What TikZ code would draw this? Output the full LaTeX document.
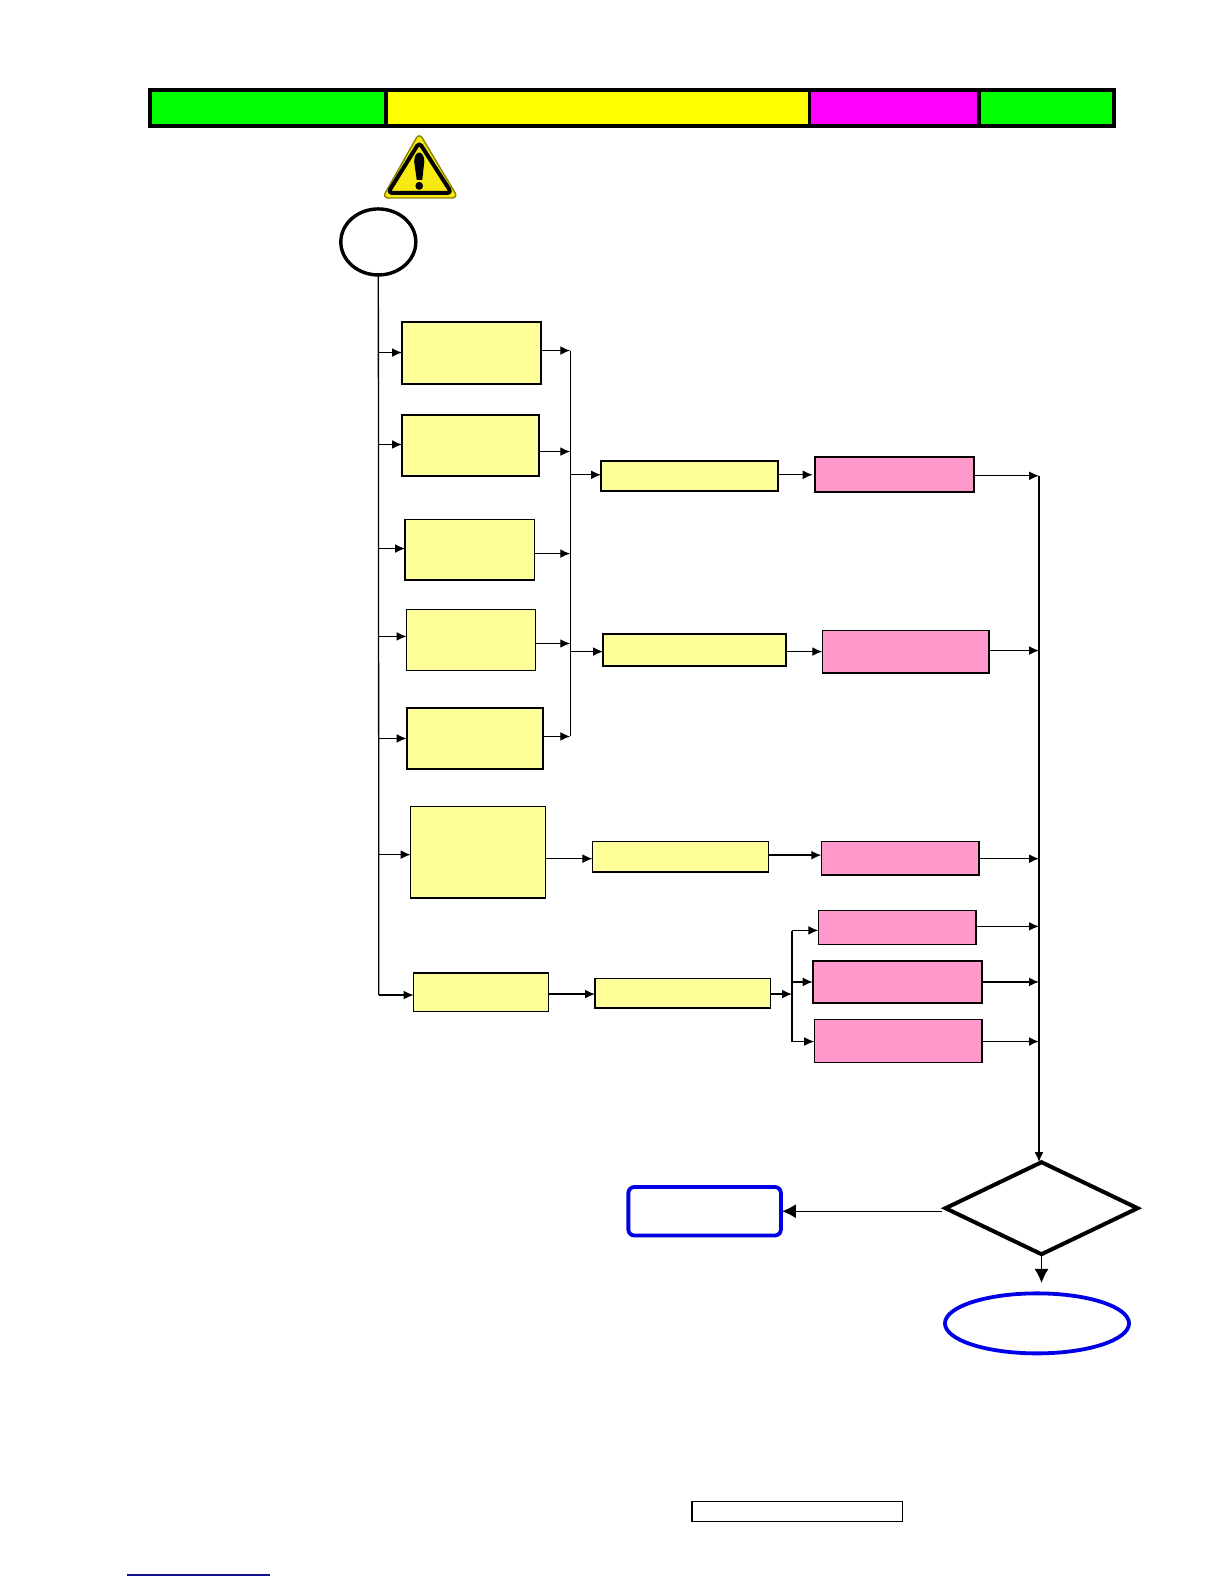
\documentclass[tikz,border=0pt]{standalone}
\usetikzlibrary{arrows.meta,shapes.geometric}
\definecolor{paley}{HTML}{FFFF99}
\definecolor{palep}{HTML}{FF99CC}
\definecolor{blu}{HTML}{0000E6}
\definecolor{hgreen}{HTML}{00FF00}
\definecolor{hyellow}{HTML}{FFFF00}
\definecolor{hmagenta}{HTML}{FF00FF}
\definecolor{warny}{HTML}{F7EA10}
\definecolor{warno}{HTML}{8A8200}
\definecolor{linkblue}{HTML}{10108C}
\tikzset{
  shp/.style={draw=black,inner sep=0pt,outer sep=0pt},
  hdr/.style={shp,rectangle,line width=1.6pt},
  ybox/.style={shp,rectangle,fill=paley,line width=0.7pt},
  ybox2/.style={ybox,line width=1pt},
  pbox/.style={shp,rectangle,fill=palep,line width=0.7pt},
  pbox2/.style={pbox,line width=1pt},
  conn/.style={line width=0.65pt,draw=black},
  arr/.style={conn,-{Latex[length=5pt,width=4.4pt]}},
  bigarr/.style={conn,-{Latex[length=7pt,width=7pt]}},
}
\newcommand{\bx}[6]{%
  \pgfmathsetmacro\cxx{(#3+#5)/2}\pgfmathsetmacro\cyy{(#4+#6)/2}%
  \pgfmathsetmacro\ww{(#5-#3)*0.50495}\pgfmathsetmacro\hh{(#6-#4)*0.50495}%
  \node[#1,minimum width=\ww pt,minimum height=\hh pt] (#2) at (\cxx,\cyy) {};}
\begin{document}
\begin{tikzpicture}[x=0.50495pt,y=-0.50495pt]
\useasboundingbox (0,0) rectangle (1212,1568);
% header
\bx{hdr,fill=hgreen}{h1}{148}{89}{382}{125}
\bx{hdr,fill=hyellow}{h2}{382}{89}{801}{125}
\bx{hdr,fill=hmagenta}{h3}{801}{89}{969}{125}
\bx{hdr,fill=hgreen}{h4}{969}{89}{1103}{125}
\draw[line width=2pt] (h1.north west) rectangle (h4.south east);
% warning sign
\draw[warno,fill=warny,line width=0.7pt,line join=round,rounded corners=3pt] (415,131.5) -- (453.5,196) -- (378.5,196) -- cycle;
\draw[black,line width=2pt,line join=round,rounded corners=2pt] (415,141) -- (447,191) -- (384,191) -- cycle;
\fill[black] (410,160) .. controls (410,148) and (420,148) .. (420,160) -- (418,178) -- (412.5,178) -- cycle;
\fill[black] (415,184) ellipse[x radius=3.8,y radius=4];
% start
\node[shp,ellipse,line width=1.7pt,fill=white,minimum width=37.5pt,minimum height=33pt] (start) at (374.5,239.5) {};
% left column
\bx{ybox2}{b1}{398}{319}{536}{380}
\bx{ybox2}{b2}{398}{411}{534}{471}
\bx{ybox}{b3}{401}{514}{529}{574}
\bx{ybox}{b4}{402.5}{603.5}{530}{663.5}
\bx{ybox2}{b5}{402.5}{701}{538}{761}
\bx{ybox}{b6}{406.5}{798.5}{540}{889}
\bx{ybox}{b7}{409.5}{963}{543}{1001}
% middle column
\bx{ybox2}{m1}{595}{456}{770}{486}
\bx{ybox2}{m2}{597}{628}{778}{659}
\bx{ybox}{m3}{586.5}{833}{761}{863}
\bx{ybox}{m4}{589}{968.5}{763}{998}
% pink column
\bx{pbox2}{p1}{806.5}{452}{964}{487}
\bx{pbox}{p2}{814}{624}{979}{666}
\bx{pbox}{p3}{813}{833}{969}{866}
\bx{pbox}{p4}{810}{901}{966}{935}
\bx{pbox2}{p5}{804.5}{951}{972}{993}
\bx{pbox}{p6}{806}{1009}{972}{1051.5}
% decision and terminals
\node[shp,diamond,aspect=2.1,line width=2pt,fill=white,minimum width=96pt,minimum height=46pt] (dec) at (1031,1196) {};
\bx{shp,rectangle,draw=blu,line width=1.9pt,rounded corners=3pt,fill=white}{bluebox}{622}{1175}{773}{1223}
\node[shp,ellipse,draw=blu,line width=1.9pt,fill=white,minimum width=92pt,minimum height=30pt] (endn) at (1026.5,1310) {};
\bx{shp,rectangle,line width=0.6pt,fill=white}{foot}{685}{1486}{893}{1506}
\draw[draw=linkblue,line width=0.8pt] (126,1559) -- (267,1559);
% trunk junctions
\foreach \n/\y in {1/349,2/440,3/543,4/630,5/731,6/846,7/985}{\coordinate (L\n) at (375,\y);}
\foreach \n/\y in {1/347,2/447,3/548,4/637,5/729}{\coordinate (M\n) at (564.5,\y);}
\coordinate (Ma) at (565,470); \coordinate (Mb) at (564,645);
\foreach \n/\y in {1/471,2/644,3/850,4/917,5/972,6/1031}{\coordinate (R\n) at (1028.5,\y);}
\coordinate (Ftop) at (784,922); \coordinate (Fbot) at (784,1031); \coordinate (Fmid) at (784,984);
% trunks
\draw[conn] (start.south) -- (L7);
\draw[conn] (M1) -- (M5);
\draw[arr] (R1) -- (dec.north -| R1);
\draw[conn] (Ftop) -- (Fbot);
% into left column
\foreach \n in {1,...,7}{\draw[arr] (L\n) -- (L\n -| b\n.west);}
% out of left column
\foreach \n in {1,...,5}{\draw[arr] (M\n -| b\n.east) -- (M\n);}
\draw[arr] (Ma) -- (Ma -| m1.west);
\draw[arr] (Mb) -- (Mb -| m2.west);
\coordinate (y3) at (0,850); \coordinate (y4) at (0,984);
\draw[arr] (y3 -| b6.east) -- (y3 -| m3.west);
\draw[arr] (y4 -| b7.east) -- (y4 -| m4.west);
% middle to pink
\coordinate (ya) at (0,470); \coordinate (yb) at (0,645); \coordinate (yc) at (0,846.5);
\draw[arr,shorten <=0.5pt,shorten >=1pt] (ya -| m1.east) -- (ya -| p1.west);
\draw[arr] (yb -| m2.east) -- (yb -| p2.west);
\draw[arr] (yc -| m3.east) -- (yc -| p3.west);
\draw[arr] (Fmid -| m4.east) -- (Fmid);
\coordinate (yd) at (0,921); \coordinate (yf) at (0,972); \coordinate (yg) at (0,1031);
\draw[arr] (Ftop |- yd) -- (yd -| p4.west);
\draw[arr] (Ftop |- yf) -- (yf -| p5.west);
\draw[arr] (Ftop |- yg) -- (yg -| p6.west);
% pink to right trunk
\foreach \n in {1,...,6}{\draw[arr] (R\n -| p\n.east) -- (R\n);}
% decision exits
\coordinate (ye) at (0,1199);
\draw[bigarr,shorten <=2pt,shorten >=0.5pt] (ye -| dec.west) -- (ye -| bluebox.east);
\draw[bigarr] (dec.south) -- (1031,1270);
\end{tikzpicture}
\end{document}
